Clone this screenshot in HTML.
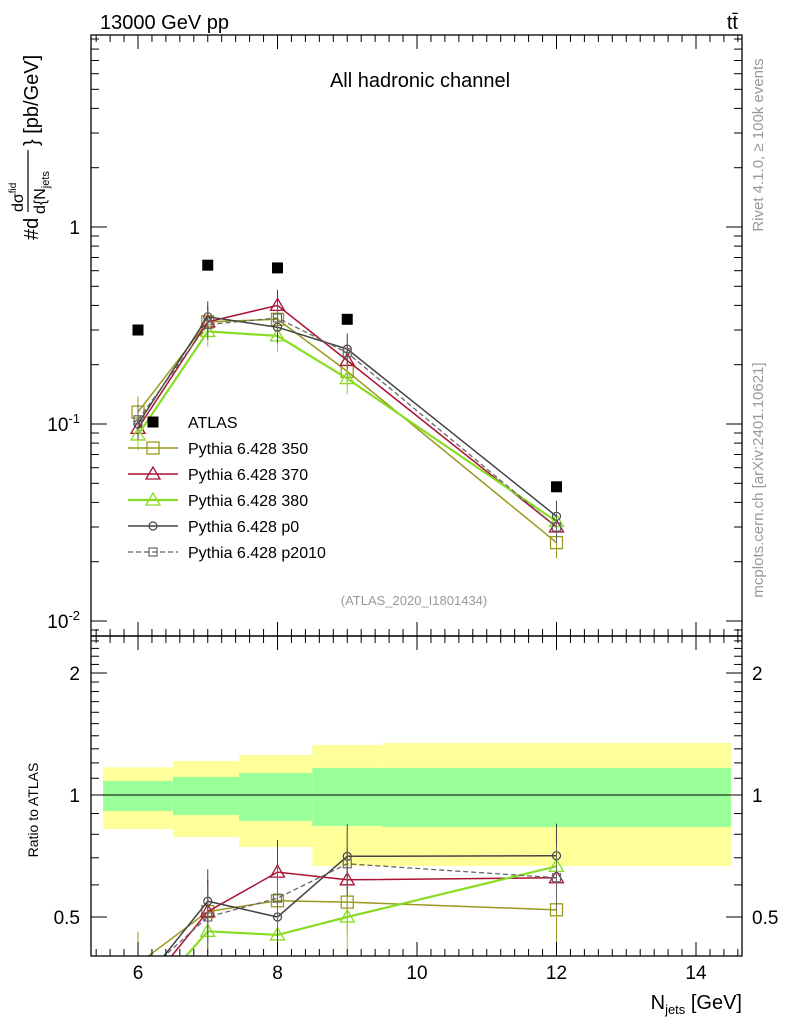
<!DOCTYPE html>
<html><head><meta charset="utf-8"><style>
body{margin:0;background:#fff;}
svg{font-family:"Liberation Sans",sans-serif;}
</style></head><body>
<svg id="chart" width="786" height="1024" viewBox="0 0 786 1024" xmlns="http://www.w3.org/2000/svg">
<text x="100" y="29" font-size="20">13000 GeV pp</text>
<text x="738" y="29" font-size="20" text-anchor="end">tt̄</text>
<text x="420" y="87" font-size="20" text-anchor="middle">All hadronic channel</text>
<text x="414" y="605" font-size="13" fill="#999" text-anchor="middle">(ATLAS_2020_I1801434)</text>
<text transform="translate(763,145) rotate(-90)" font-size="15" fill="#999" text-anchor="middle">Rivet 4.1.0, ≥ 100k events</text>
<text transform="translate(763,480) rotate(-90)" font-size="15" fill="#999" text-anchor="middle">mcplots.cern.ch [arXiv:2401.10621]</text>
<g transform="rotate(-90)">
<text x="-240" y="38" font-size="20">#d</text>
<text x="-212" y="23" font-size="16">dσ<tspan font-size="10" dy="-7">fid</tspan></text>
<line x1="-212" x2="-150" y1="28" y2="28" stroke="#000" stroke-width="1.2"/>
<text x="-214" y="45" font-size="16">d{N<tspan font-size="11" dy="4">jets</tspan></text>
<text x="-146" y="38" font-size="20">} [pb/GeV]</text>
</g>
<text transform="translate(38,810) rotate(-90)" font-size="14" text-anchor="middle">Ratio to ATLAS</text>
<text x="742" y="1009" font-size="20" text-anchor="end">N<tspan font-size="13" dy="5">jets</tspan><tspan dy="-5"> [GeV]</tspan></text>
<g id="g"></g>
</svg>
<script>
const xBins=[6,7,8,9,12];
const atlas=[0.30,0.64,0.62,0.34,0.048];
const s350=[0.115,0.33,0.34,0.185,0.025];
const s370=[0.095,0.33,0.40,0.21,0.030];
const s380=[0.088,0.295,0.28,0.17,0.032];
const sp0=[0.10,0.35,0.31,0.24,0.034];
const sp2010=[0.105,0.32,0.345,0.23,0.030];
const bandEdges=[5.5,6.5,7.45,8.5,9.5,14.5];
const bandInnerLo=[0.913,0.893,0.863,0.839,0.834];
const bandInnerHi=[1.083,1.108,1.133,1.166,1.166];
const bandOuterLo=[0.824,0.788,0.744,0.668,0.668];
const bandOuterHi=[1.17,1.213,1.255,1.328,1.344];
const xTicks=[6,8,10,12,14];
const yMainTicks=[1,0.1,0.01];
const yMainLabels=["1","10","10"];
const yRatioTicks=[0.5,1,2];

const L=91,R=742,T=35,M=636,B=956;
const X=v=>138+(v-6)*69.75;
const Y=v=>227-Math.log10(v)*197;
const YR=v=>795-Math.log2(v)*122;
const NS="http://www.w3.org/2000/svg";
const g=document.getElementById('g');
function mk(t,a,p){const e=document.createElementNS(NS,t);for(const k in a)e.setAttribute(k,a[k]);(p||g).appendChild(e);return e;}

const defs=mk('defs',{});
const c1=mk('clipPath',{id:'cm'},defs);mk('rect',{x:L,y:T,width:R-L,height:M-T},c1);
const c2=mk('clipPath',{id:'cr'},defs);mk('rect',{x:L,y:M,width:R-L,height:B-M},c2);
const gm=mk('g',{'clip-path':'url(#cm)'});
const gr=mk('g',{'clip-path':'url(#cr)'});

for(let i=0;i<bandInnerLo.length;i++){
  const x0=X(bandEdges[i]),x1=X(bandEdges[i+1]);
  const o=mk('rect',{x:x0,y:YR(bandOuterHi[i]),width:x1-x0,height:YR(bandOuterLo[i])-YR(bandOuterHi[i]),fill:'#ffff99'},gr);
  
  
  const n=mk('rect',{x:x0,y:YR(bandInnerHi[i]),width:x1-x0,height:YR(bandInnerLo[i])-YR(bandInnerHi[i]),fill:'#99ff99'},gr);
  
  
}
mk('line',{x1:L,x2:R,y1:YR(1),y2:YR(1),stroke:'#000','stroke-width':1},gr);

const f1=mk('rect',{x:L,y:T,width:R-L,height:M-T,fill:'none',stroke:'#000','stroke-width':1.3});


const f2=mk('rect',{x:L,y:M,width:R-L,height:B-M,fill:'none',stroke:'#000','stroke-width':1.3});



for(let v=5.4;v<=14.6;v+=0.2){const vv=Math.round(v*10)/10;if(vv<5.34||vv>14.66)continue;
  const major=Math.abs(vv-Math.round(vv))<0.01&&Math.round(vv)%2===0;const len=major?14:7;
  [T,M].forEach(y0=>mk('line',{x1:X(vv),x2:X(vv),y1:y0,y2:y0+len,stroke:'#000'}));
  [M,B].forEach(y0=>mk('line',{x1:X(vv),x2:X(vv),y1:y0,y2:y0-len,stroke:'#000'}));}
xTicks.forEach(v=>{const t=mk('text',{x:X(v),y:979,'font-size':19,'text-anchor':'middle'});t.textContent=v;
  
  });
for(let d=-3;d<=1;d++)for(let m=1;m<10;m++){const v=m*Math.pow(10,d);const y=Y(v);if(y<T||y>M)continue;
  const len=m===1?16:8;mk('line',{x1:L,x2:L+len,y1:y,y2:y,stroke:'#000'});mk('line',{x1:R,x2:R-len,y1:y,y2:y,stroke:'#000'});}
yMainTicks.forEach((v,i)=>{const t=mk('text',{x:80,y:Y(v)+7,'font-size':19,'text-anchor':'end'});t.textContent=yMainLabels[i];
  if(v!==1){const s=mk('tspan',{dy:-8,'font-size':13},t);s.textContent=String(Math.round(Math.log10(v)));}
  
  });
for(let k=3;k<=25;k++){const vv=k/10;const y=YR(vv);if(y<M||y>B)continue;
  const major=(k===5||k===10||k===20);const len=major?16:8;
  mk('line',{x1:L,x2:L+len,y1:y,y2:y,stroke:'#000'});mk('line',{x1:R,x2:R-len,y1:y,y2:y,stroke:'#000'});}
yRatioTicks.forEach(v=>{[[80,'end'],[752,'start']].forEach(([x,a])=>{const t=mk('text',{x:x,y:YR(v)+7,'font-size':19,'text-anchor':a});t.textContent=v;
  
  });});

function marker(p,type,x,y,col){
  if(type==='sq')mk('rect',{x:x-6,y:y-6,width:12,height:12,fill:'none',stroke:col,'stroke-width':1.3},p);
  else if(type==='ssq')mk('rect',{x:x-4,y:y-4,width:8,height:8,fill:'none',stroke:col,'stroke-width':1.2},p);
  else if(type==='tri')mk('polygon',{points:`${x},${y-7} ${x-7},${y+5} ${x+7},${y+5}`,fill:'none',stroke:col,'stroke-width':1.3},p);
  else if(type==='circ')mk('circle',{cx:x,cy:y,r:4,fill:'none',stroke:col,'stroke-width':1.2},p);
}
const series=[
 {d:s350,n:'Pythia 6.428 350',c:'#9a9a1e',m:'sq',w:1.5,dash:''},
 {d:s370,n:'Pythia 6.428 370',c:'#aa1133',m:'tri',w:1.5,dash:''},
 {d:s380,n:'Pythia 6.428 380',c:'#88dd22',m:'tri',w:2.2,dash:''},
 {d:sp0,n:'Pythia 6.428 p0',c:'#444444',m:'circ',w:1.5,dash:''},
 {d:sp2010,n:'Pythia 6.428 p2010',c:'#666666',m:'ssq',w:1.3,dash:'5,3'}];
series.forEach((s,k)=>{
  const pm=s.d.map((v,i)=>X(xBins[i])+','+Y(v)).join(' ');
  const l=mk('polyline',{points:pm,fill:'none',stroke:s.c,'stroke-width':s.w,'stroke-dasharray':s.dash},gm);
  
  
  const pr=s.d.map((v,i)=>X(xBins[i])+','+YR(v/atlas[i])).join(' ');
  const lr=mk('polyline',{points:pr,fill:'none',stroke:s.c,'stroke-width':s.w,'stroke-dasharray':s.dash},gr);
  
  
  s.d.forEach((v,i)=>{const x=X(xBins[i]);
    mk('line',{x1:x,x2:x,y1:Y(v*1.2),y2:Y(v/1.2),stroke:s.c,'stroke-width':1},gm);
    marker(gm,s.m,x,Y(v),s.c);
    const r=v/atlas[i];mk('line',{x1:x,x2:x,y1:YR(r*1.2),y2:YR(r/1.2),stroke:s.c,'stroke-width':1},gr);
    marker(gr,s.m,x,YR(r),s.c);});
  const ly=448+k*26;
  mk('line',{x1:128,x2:178,y1:ly,y2:ly,stroke:s.c,'stroke-width':s.w,'stroke-dasharray':s.dash});
  marker(g,s.m,153,ly,s.c);
  const t=mk('text',{x:188,y:ly+6,'font-size':16});t.textContent=s.n;
  
  
});
atlas.forEach((v,i)=>{const r=mk('rect',{x:X(xBins[i])-5.5,y:Y(v)-5.5,width:11,height:11,fill:'#000'},gm);
  
  });
mk('rect',{x:147.5,y:416.5,width:11,height:11,fill:'#000'});
const at=mk('text',{x:188,y:428,'font-size':16});at.textContent='ATLAS';


</script>
</body></html>
